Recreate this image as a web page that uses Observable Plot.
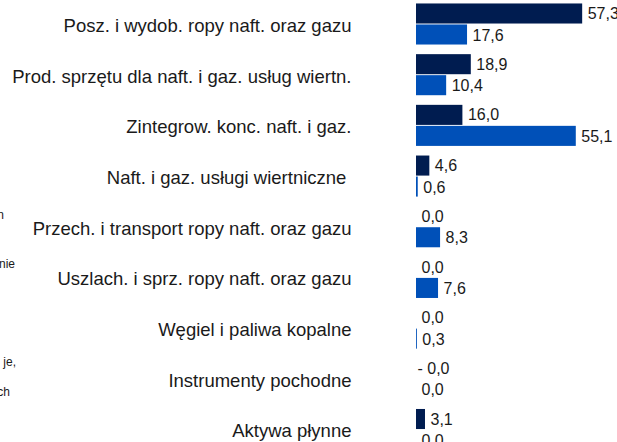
<!DOCTYPE html>
<html>
<head>
<meta charset="utf-8">
<script src="https://cdn.jsdelivr.net/npm/d3@7"></script>
<script src="https://cdn.jsdelivr.net/npm/@observablehq/plot@0.6"></script>
<style>
  html, body { margin: 0; padding: 0; background: #fff; overflow: hidden; }
  #wrap { position: relative; width: 617px; height: 442px; overflow: hidden; font-family: "Liberation Sans", Arial, sans-serif; }
  .frag { position: absolute; font-size: 12px; line-height: 14px; color: #1a1a1a; white-space: nowrap; text-align: right; }
</style>
</head>
<body>
<div id="wrap"></div>
<script>
const categories = [
  "Posz. i wydob. ropy naft. oraz gazu",
  "Prod. sprzętu dla naft. i gaz. usług wiertn.",
  "Zintegrow. konc. naft. i gaz.",
  "Naft. i gaz. usługi wiertniczne ",
  "Przech. i transport ropy naft. oraz gazu",
  "Uszlach. i sprz. ropy naft. oraz gazu",
  "Węgiel i paliwa kopalne",
  "Instrumenty pochodne",
  "Aktywa płynne"
];
const seriesDark = [57.3, 18.9, 16.0, 4.6, 0.0, 0.0, 0.0, -0.0, 3.1];
const seriesBlue = [17.6, 10.4, 55.1, 0.6, 8.3, 7.6, 0.3, 0.0, 0.0];
const fragments = [
  {text: "n", right: 4, cy: 215},
  {text: "nie", right: 15, cy: 264},
  {text: "je,", right: 16, cy: 362},
  {text: "ch", right: 10, cy: 392}
];

const dark = categories.map((c, i) => ({cat: c, v: seriesDark[i]}));
const blue = categories.map((c, i) => ({cat: c, v: seriesBlue[i]}));
const isNeg = v => v < 0 || Object.is(v, -0);
const fmt = v => (isNeg(v) ? "- " : "") + Math.abs(v).toFixed(1).replace(".", ",");

const DARK = "#001c50";
const BLUE = "#0050b8";
const TXT = "#1a1a1a";

const chart = Plot.plot({
  width: 617,
  height: 442,
  marginLeft: 416,
  marginRight: 27,
  marginTop: 0,
  marginBottom: 0,
  style: {fontFamily: "Liberation Sans, Arial, sans-serif", fontSize: "16px", color: TXT, background: "white"},
  x: {domain: [0, 60], axis: null},
  y: {type: "band", domain: categories, range: [-1.35, 454.85], paddingInner: 0.19, paddingOuter: 0.095, round: false, axis: null},
  marks: [
    Plot.text(categories, {y: d => d, frameAnchor: "left", dx: -65, dy: 1.5, textAnchor: "end", fontSize: 18.5, fill: TXT}),
    Plot.barX(dark, {y: "cat", x: "v", fill: DARK, insetBottom: 21}),
    Plot.barX(blue, {y: "cat", x: "v", fill: BLUE, insetTop: 21}),
    Plot.text(dark.filter(d => !isNeg(d.v)), {y: "cat", x: "v", text: d => fmt(d.v), dx: 5, dy: -10.5, textAnchor: "start", fontSize: 16, fill: TXT}),
    Plot.text(dark.filter(d => isNeg(d.v)), {y: "cat", x: "v", text: d => fmt(d.v), dx: 1, dy: -10.5, textAnchor: "start", fontSize: 16, fill: TXT}),
    Plot.text(blue, {y: "cat", x: "v", text: d => fmt(d.v), dx: 5, dy: 11, textAnchor: "start", fontSize: 16, fill: TXT})
  ]
});
const wrap = document.getElementById("wrap");
wrap.appendChild(chart);
for (const f of fragments) {
  const d = document.createElement("div");
  d.className = "frag";
  d.textContent = f.text;
  d.style.right = (617 - f.right) + "px";
  d.style.top = (f.cy - 7) + "px";
  wrap.appendChild(d);
}
</script>
</body>
</html>
